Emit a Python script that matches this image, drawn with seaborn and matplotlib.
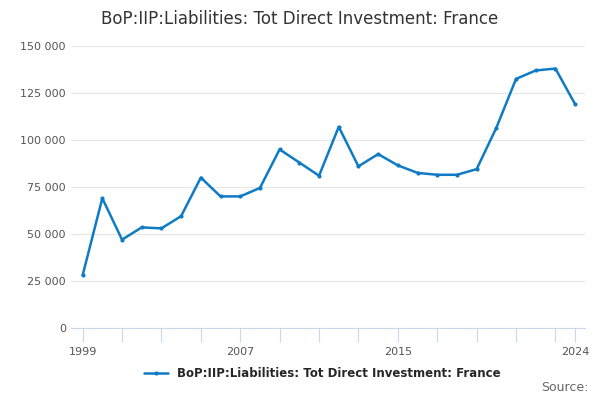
import matplotlib
matplotlib.use("Agg")
import matplotlib.pyplot as plt
import seaborn as sns
import pandas as pd
from matplotlib.ticker import FuncFormatter, FixedLocator

years = list(range(1999, 2025))
values = [28000, 69000, 47000, 53500, 53000, 59500, 80000, 70000, 70000, 74500,
          95000, 88000, 81000, 107000, 86000, 92500, 86500, 82500, 81500, 81500,
          84500, 106500, 132500, 137000, 138000, 119000]
label = "BoP:IIP:Liabilities: Tot Direct Investment: France"

df = pd.DataFrame({"year": years, "value": values})

sns.set_style("white")
fig, ax = plt.subplots(figsize=(6, 4), dpi=100)
fig.subplots_adjust(left=0.118, right=0.975, top=0.885, bottom=0.18)

sns.lineplot(data=df, x="year", y="value", ax=ax, color="#0f7bc4",
             linewidth=1.8, marker="o", markersize=3, markeredgewidth=0, label=label)

ax.set_ylim(0, 150000)
ax.set_yticks(range(0, 150001, 25000))
ax.yaxis.set_major_formatter(FuncFormatter(lambda v, p: f"{int(v):,}".replace(",", " ")))
ax.set_xlim(1998.4, 2024.5)
ax.set_xticks([1999, 2007, 2015, 2024])
ax.xaxis.set_minor_locator(FixedLocator(list(range(1999, 2024, 2)) + [2024]))
ax.tick_params(axis="x", which="both", bottom=True, length=10, width=0.8,
               color="#ccd6eb", labelsize=8, labelcolor="#555555")
ax.tick_params(axis="y", length=0, labelsize=8, labelcolor="#555555")
ax.grid(axis="y", color="#e6e6e6", linewidth=0.8)
for s in ["top", "right", "left"]:
    ax.spines[s].set_visible(False)
ax.spines["bottom"].set_color("#ccd6eb")
ax.set_xlabel("")
ax.set_ylabel("")

fig.suptitle(label, x=0.5, y=0.975, fontsize=12, color="#333333")
ax.legend(loc="upper center", bbox_to_anchor=(0.49, -0.1), frameon=False,
          prop={"weight": "bold", "size": 8.5})
fig.text(0.98, 0.015, "Source:", ha="right", va="bottom", fontsize=9, color="#666666")

fig.savefig("out.png")
